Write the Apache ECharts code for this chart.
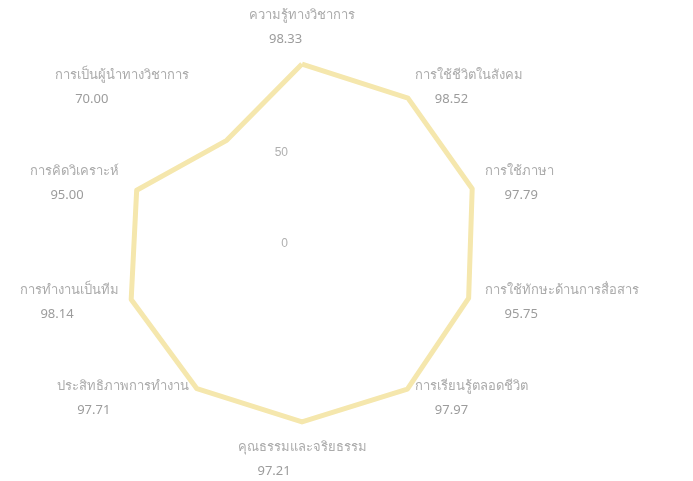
<!DOCTYPE html>
<html>
<head>
<meta charset="utf-8">
<script src="https://cdn.jsdelivr.net/npm/echarts@6/dist/echarts.min.js"></script>
<style>html,body{margin:0;padding:0;background:#fff;}#c{width:693px;height:481px;}</style>
</head>
<body>
<div id="c"></div>
<script>
// indicators listed counter-clockwise from the top (ECharts radar order)
const categories = [
  'ความรู้ทางวิชาการ',
  'การเป็นผู้นำทางวิชาการ',
  'การคิดวิเคราะห์',
  'การทำงานเป็นทีม',
  'ประสิทธิภาพการทำงาน',
  'คุณธรรมและจริยธรรม',
  'การเรียนรู้ตลอดชีวิต',
  'การใช้ทักษะด้านการสื่อสาร',
  'การใช้ภาษา',
  'การใช้ชีวิตในสังคม'
];
const values = [98.33, 70.00, 95.00, 98.14, 97.71, 97.21, 97.97, 95.75, 97.79, 98.52];
const axisMin = 0;
const axisMax = 100;

const chart = echarts.init(document.getElementById('c'));
const indicator = categories.map((n, i) => {
  const o = { name: n, min: axisMin, max: axisMax };
  if (i === 0) {
    o.axisLabel = {
      show: true, color: '#b0b0b0', fontSize: 12, margin: 14,
      formatter: v => (v >= axisMax ? '' : String(v))
    };
  }
  return o;
});
const valueMap = {};
categories.forEach((c, i) => { valueMap[c] = values[i]; });

chart.setOption({
  backgroundColor: '#fff',
  radar: {
    center: [302, 244],
    radius: 183,
    startAngle: 90,
    splitNumber: 2,
    shape: 'polygon',
    nameGap: 9,
    indicator: indicator,
    axisName: {
      formatter: (name) => '{a|' + name + '}\n{b|' + valueMap[name].toFixed(2) + '}',
      rich: {
        a: { color: '#ababab', fontSize: 13, lineHeight: 22, fontFamily: 'Noto Sans, DejaVu Sans, sans-serif', align: 'left' },
        b: { color: '#9c9c9c', fontSize: 13, lineHeight: 26, fontFamily: 'Noto Sans, DejaVu Sans, sans-serif', align: 'left', padding: [0, 0, 0, 20] }
      }
    },
    axisLine: { show: false },
    axisTick: { show: false },
    axisLabel: { show: false },
    splitLine: { show: false },
    splitArea: { show: false }
  },
  series: [{
    type: 'radar',
    symbol: 'none',
    lineStyle: { color: '#f5e7ad', width: 5 },
    data: [{ value: values }]
  }]
});
</script>
</body>
</html>
